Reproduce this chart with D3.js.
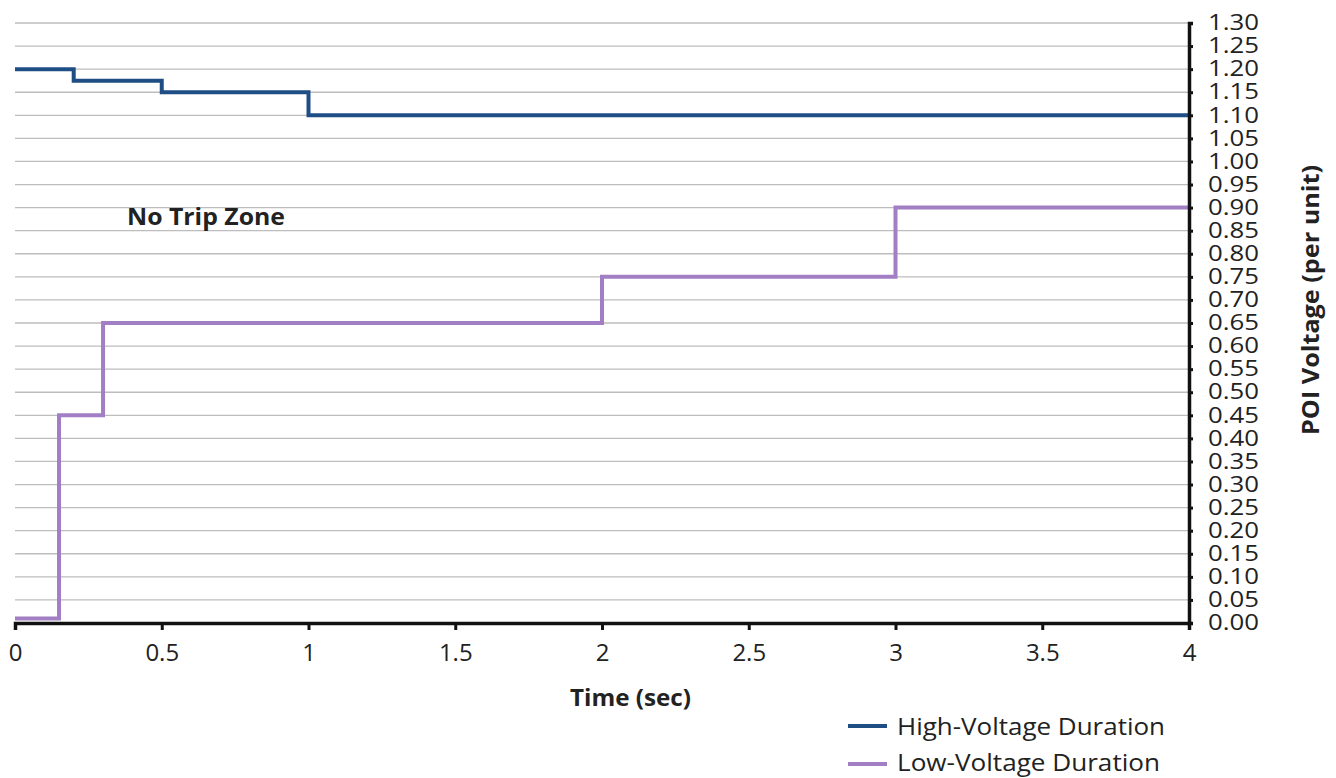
<!DOCTYPE html>
<html><head><meta charset="utf-8">
<script src="https://cdn.jsdelivr.net/npm/d3@7"></script>
<style>body{margin:0;background:#fff}svg{display:block}text{font-family:"Open Sans",sans-serif;fill:#222}</style>
</head><body>
<script>
const highT = [0, 0.2, 0.5, 1, 4];
const highV = [1.20, 1.175, 1.15, 1.10, 1.10];
const lowT = [0, 0.15, 0.3, 2, 3, 4];
const lowV = [0.01, 0.45, 0.65, 0.75, 0.90, 0.90];
const xTicks = [0, 0.5, 1, 1.5, 2, 2.5, 3, 3.5, 4];
const yTicks = d3.range(0, 27).map(i => +(i * 0.05).toFixed(2));
const seriesNames = ["High-Voltage Duration", "Low-Voltage Duration"];
const colors = ["#1f4e85", "#a27fc4"];

const W = 1336, H = 778;
const svg = d3.select("body").append("svg").attr("width", W).attr("height", H);
const x = d3.scaleLinear().domain([0, 4]).range([15, 1189]);
const y = d3.scaleLinear().domain([0, 1.30]).range([623, 23]);

// gridlines
svg.append("g").selectAll("line").data(yTicks.filter(v => v > 0)).join("line")
  .attr("x1", x(0)).attr("x2", x(4)).attr("y1", d => y(d)).attr("y2", d => y(d))
  .attr("stroke", "#bdbdbd").attr("stroke-width", 1.3);

// lines
const line = d3.line().x(d => x(d[0])).y(d => y(d[1])).curve(d3.curveStepAfter);
[[highT, highV], [lowT, lowV]].forEach((s, i) => {
  svg.append("path").datum(s[0].map((t, j) => [t, s[1][j]]))
    .attr("d", line).attr("fill", "none").attr("stroke", colors[i]).attr("stroke-width", 4);
});

// x axis
const xAxis = svg.append("g").attr("transform", `translate(0,${y(0)})`)
  .call(d3.axisBottom(x).tickValues(xTicks).tickFormat(d3.format("")).tickSize(7).tickPadding(14));
xAxis.select(".domain").attr("stroke", "#111").attr("stroke-width", 3.5);
xAxis.selectAll(".tick line").attr("stroke", "#111").attr("stroke-width", 3);
xAxis.selectAll(".tick text").style("font-size", "24px").attr("fill", "#222");

// y axis (right)
const yAxis = svg.append("g").attr("transform", `translate(${x(4)},0)`)
  .call(d3.axisRight(y).tickValues(yTicks).tickFormat(d3.format(".2f")).tickSize(4).tickPadding(15));
yAxis.select(".domain").attr("stroke", "#111").attr("stroke-width", 3.5);
yAxis.selectAll(".tick line").attr("stroke", "#111").attr("stroke-width", 3);
yAxis.selectAll(".tick text").style("font-size", "21px").attr("fill", "#222")
  .attr("textLength", 51).attr("lengthAdjust", "spacingAndGlyphs");

// titles
svg.append("text").attr("x", 570).attr("y", 706)
  .attr("textLength", 121).attr("lengthAdjust", "spacingAndGlyphs")
  .style("font-size", "23px").style("font-weight", "700").text("Time (sec)");
svg.append("text").attr("transform", "translate(1319,435) rotate(-90)")
  .attr("textLength", 270).attr("lengthAdjust", "spacingAndGlyphs")
  .style("font-size", "23px").style("font-weight", "700").text("POI Voltage (per unit)");
svg.append("text").attr("x", 127).attr("y", 225)
  .attr("textLength", 158).attr("lengthAdjust", "spacingAndGlyphs")
  .style("font-size", "23px").style("font-weight", "700").text("No Trip Zone");

// legend
const legendLen = [268, 263];
seriesNames.forEach((n, i) => {
  const ly = 726 + i * 38;
  svg.append("line").attr("x1", 848).attr("x2", 887).attr("y1", ly).attr("y2", ly)
    .attr("stroke", colors[i]).attr("stroke-width", 4);
  svg.append("text").attr("x", 897).attr("y", ly + 9 - i * 2).style("font-size", "23px")
    .attr("textLength", legendLen[i]).attr("lengthAdjust", "spacingAndGlyphs").text(n);
});
</script>
</body></html>
